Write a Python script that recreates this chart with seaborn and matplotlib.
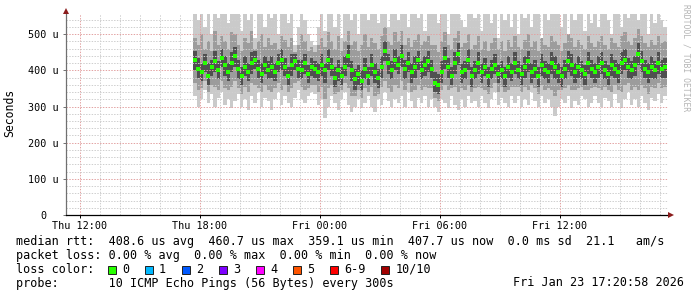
import numpy as np
import pandas as pd
import matplotlib
matplotlib.use("Agg")
import matplotlib.pyplot as plt
import matplotlib.dates as mdates
from matplotlib.ticker import MultipleLocator, FuncFormatter
from matplotlib.patches import Rectangle, Polygon
import seaborn as sns

# ---------------- data (microseconds, 10-minute steps from Thu 17:40) ----------------
median = [
    430, 405, 395, 420, 385, 410, 425, 400, 435, 415, 395, 420,
    440, 405, 385, 410, 395, 420, 430, 405, 390, 415, 400, 410,
    395, 420, 430, 410, 385, 415, 425, 405, 400, 420, 390, 410,
    405, 395, 415, 400, 430, 410, 380, 400, 385, 410, 440, 400,
    375, 390, 370, 405, 385, 415, 395, 380, 410, 455, 420, 400,
    430, 415, 440, 405, 420, 395, 410, 430, 400, 415, 425, 405,
    365, 360, 395, 435, 410, 385, 420, 445, 395, 400, 430, 385,
    400, 420, 395, 410, 385, 405, 415, 390, 400, 385, 410, 395,
    420, 400, 390, 410, 425, 395, 405, 385, 415, 400, 395, 420,
    410, 395, 385, 405, 425, 415, 395, 410, 400, 390, 420, 405,
    395, 410, 420, 400, 390, 415, 405, 395, 420, 430, 410, 400,
    415, 445, 425, 405, 395, 410, 400, 420, 405, 410,
]
outer_hi = [
    555, 540, 555, 520, 555, 500, 555, 545, 555, 555, 530, 555,
    555, 555, 510, 555, 540, 555, 490, 555, 555, 520, 555, 545,
    555, 500, 555, 555, 530, 555, 470, 520, 555, 540, 500, 480,
    470, 520, 555, 510, 555, 555, 520, 555, 490, 555, 555, 540,
    555, 500, 555, 555, 540, 555, 555, 530, 555, 555, 520, 555,
    555, 540, 555, 555, 520, 555, 555, 545, 555, 510, 555, 555,
    555, 530, 555, 555, 500, 555, 555, 555, 540, 520, 555, 555,
    545, 555, 510, 555, 555, 530, 555, 490, 555, 540, 555, 520,
    555, 500, 555, 545, 555, 520, 555, 555, 480, 555, 540, 555,
    555, 555, 520, 555, 500, 555, 540, 555, 555, 510, 555, 530,
    555, 520, 555, 555, 540, 500, 555, 555, 520, 555, 545, 555,
    555, 540, 555, 555, 500, 555, 530, 555, 540, 520,
]
outer_lo = [
    330, 300, 320, 345, 310, 335, 300, 325, 340, 305, 320, 295,
    315, 335, 300, 320, 290, 330, 310, 340, 300, 325, 315, 290,
    320, 340, 305, 330, 310, 300, 325, 345, 320, 310, 330, 340,
    335, 305, 320, 268, 300, 330, 310, 290, 320, 340, 305, 285,
    300, 320, 295, 310, 330, 300, 285, 320, 305, 340, 315, 300,
    320, 310, 330, 300, 340, 315, 295, 325, 310, 330, 300, 320,
    300, 285, 320, 310, 295, 330, 305, 290, 320, 300, 330, 310,
    315, 300, 330, 310, 295, 320, 340, 305, 325, 310, 300, 330,
    310, 330, 300, 320, 305, 340, 315, 300, 330, 310, 320, 300,
    275, 300, 320, 310, 330, 295, 315, 305, 330, 320, 300, 310,
    330, 310, 300, 325, 315, 300, 335, 310, 295, 320, 340, 305,
    320, 300, 330, 310, 290, 325, 315, 335, 310, 330,
]
mid_hi = [
    490, 470, 500, 460, 480, 455, 510, 470, 495, 480, 460, 505,
    500, 470, 455, 490, 475, 510, 460, 480, 500, 465, 490, 470,
    475, 460, 495, 485, 465, 490, 450, 470, 500, 480, 455, 465,
    450, 470, 490, 465, 505, 480, 460, 495, 455, 480, 510, 470,
    480, 455, 470, 500, 465, 490, 475, 460, 495, 520, 480, 470,
    505, 480, 510, 470, 490, 465, 485, 500, 470, 480, 495, 470,
    470, 450, 480, 505, 470, 460, 490, 510, 465, 475, 500, 460,
    470, 495, 460, 480, 455, 475, 490, 460, 480, 455, 485, 465,
    495, 465, 460, 485, 500, 465, 480, 455, 490, 470, 465, 495,
    480, 470, 455, 475, 500, 490, 465, 485, 470, 460, 495, 475,
    465, 480, 495, 470, 460, 490, 475, 465, 495, 505, 480, 470,
    490, 515, 495, 475, 465, 485, 470, 495, 475, 480,
]
mid_lo = [
    365, 345, 350, 370, 340, 360, 355, 345, 370, 350, 345, 355,
    370, 350, 335, 355, 340, 365, 360, 350, 340, 360, 345, 340,
    350, 365, 345, 360, 340, 350, 365, 370, 355, 345, 350, 360,
    360, 340, 355, 320, 350, 360, 335, 340, 345, 365, 350, 330,
    330, 345, 325, 350, 340, 355, 330, 335, 355, 370, 350, 340,
    360, 350, 370, 345, 365, 340, 345, 360, 345, 355, 350, 350,
    325, 315, 345, 360, 345, 350, 355, 340, 350, 345, 360, 340,
    350, 355, 350, 345, 335, 350, 365, 340, 355, 340, 345, 355,
    355, 355, 340, 355, 345, 360, 350, 335, 360, 345, 350, 345,
    330, 345, 345, 350, 360, 345, 345, 350, 355, 345, 345, 350,
    355, 350, 345, 355, 345, 340, 360, 345, 340, 360, 365, 345,
    355, 345, 360, 350, 335, 355, 350, 365, 350, 355,
]
inner_hi = [
    455, 435, 420, 445, 420, 430, 455, 425, 460, 440, 420, 450,
    465, 430, 410, 440, 420, 450, 455, 430, 420, 440, 425, 440,
    420, 445, 460, 435, 410, 445, 445, 430, 430, 445, 415, 435,
    425, 420, 445, 420, 460, 435, 410, 430, 410, 440, 470, 425,
    405, 415, 400, 435, 410, 445, 420, 405, 440, 480, 445, 425,
    460, 440, 470, 430, 450, 420, 440, 455, 425, 440, 455, 430,
    395, 390, 425, 465, 435, 410, 450, 475, 420, 425, 460, 410,
    425, 450, 420, 435, 410, 430, 445, 415, 425, 410, 440, 420,
    450, 425, 415, 440, 455, 420, 430, 410, 445, 425, 420, 450,
    440, 420, 410, 430, 455, 445, 420, 440, 425, 415, 450, 430,
    420, 440, 450, 425, 415, 445, 430, 420, 450, 460, 435, 425,
    440, 475, 455, 430, 420, 440, 425, 450, 430, 435,
]
inner_lo = [
    400, 380, 370, 395, 360, 385, 395, 375, 410, 385, 370, 395,
    410, 375, 360, 385, 370, 390, 405, 380, 365, 390, 375, 380,
    370, 395, 400, 385, 360, 385, 400, 380, 375, 390, 365, 385,
    380, 370, 385, 365, 400, 385, 355, 370, 360, 385, 410, 370,
    345, 360, 345, 375, 360, 385, 365, 350, 380, 425, 390, 375,
    400, 390, 410, 375, 395, 365, 380, 400, 375, 385, 395, 380,
    340, 335, 365, 405, 380, 360, 390, 415, 365, 375, 400, 355,
    375, 390, 365, 385, 355, 375, 390, 365, 375, 355, 380, 370,
    390, 375, 360, 380, 395, 365, 380, 355, 385, 375, 365, 390,
    375, 365, 355, 375, 395, 385, 365, 380, 375, 360, 390, 380,
    365, 380, 390, 375, 360, 385, 380, 365, 390, 400, 380, 375,
    385, 415, 395, 380, 365, 380, 375, 390, 380, 380,
]

loss_labels = ["0", "1", "2", "3", "4", "5", "6-9", "10/10"]
loss_colors = ["#26ff00", "#00b8ff", "#0059ff", "#7e00ff", "#ff00ff",
               "#ff5500", "#ff0000", "#a10000"]

legend_rtt = "median rtt:  408.6 us avg  460.7 us max  359.1 us min  407.7 us now  0.0 ms sd  21.1   am/s"
legend_loss = "packet loss: 0.00 % avg  0.00 % max  0.00 % min  0.00 % now"
legend_probe = "probe:       10 ICMP Echo Pings (56 Bytes) every 300s"
stamp = "Fri Jan 23 17:20:58 2026"

# ---------------- figure ----------------
W, H = 697, 297
sns.set_theme(style="white")
plt.rcParams["font.family"] = ["DejaVu Sans Mono", "DejaVu Sans"]
plt.rcParams["axes.unicode_minus"] = False

fig = plt.figure(figsize=(W / 100, H / 100), dpi=100)
fig.patch.set_facecolor("white")
ax = fig.add_axes([66 / W, 1 - 215 / H, 602 / W, 201 / H])
ax.set_facecolor("white")

n = len(median)
edges = pd.date_range("2026-01-22 17:40", periods=n + 1, freq="10min")
centers = edges[:-1] + pd.Timedelta(minutes=5)

def ext(a):
    a = np.asarray(a, dtype=float)
    return np.append(a, a[-1])

ax.fill_between(edges, ext(outer_lo), ext(outer_hi), step="post",
                color="#cacaca", linewidth=0, zorder=1)
ax.fill_between(edges, ext(mid_lo), ext(mid_hi), step="post",
                color="#9c9c9c", linewidth=0, zorder=1.1)
ax.fill_between(edges, ext(inner_lo), ext(inner_hi), step="post",
                color="#505050", linewidth=0, zorder=1.2)

df = pd.DataFrame({"t": centers, "median": median})
sns.scatterplot(data=df, x="t", y="median", marker="s", s=7,
                color=loss_colors[0], linewidth=0, ax=ax, zorder=4)

ax.set_xlim(pd.Timestamp("2026-01-22 11:18"), pd.Timestamp("2026-01-23 17:24"))
ax.set_ylim(0, 556)

ax.xaxis.set_major_locator(mdates.HourLocator(byhour=[0, 6, 12, 18]))
ax.xaxis.set_minor_locator(mdates.HourLocator(interval=1))
ax.xaxis.set_major_formatter(mdates.DateFormatter("%a %H:%M"))
ax.yaxis.set_major_locator(MultipleLocator(100))
ax.yaxis.set_minor_locator(MultipleLocator(20))
ax.yaxis.set_major_formatter(FuncFormatter(lambda v, p: "0  " if v == 0 else f"{int(v)} u"))

ax.set_axisbelow(False)
ax.grid(which="minor", color="#cfcfcf", linestyle=(0, (1.4, 1.4)), linewidth=0.72, zorder=2)
ax.grid(which="major", color="#e3a3a3", linestyle=(0, (1.4, 1.4)), linewidth=0.72, zorder=2.1)

for s in ["top", "right"]:
    ax.spines[s].set_visible(False)
ax.spines["left"].set_color("#707070")
ax.spines["left"].set_linewidth(0.9)
ax.spines["bottom"].set_color("#000000")
ax.spines["bottom"].set_linewidth(0.9)
ax.spines["left"].set_zorder(5)
ax.spines["bottom"].set_zorder(5)

ax.tick_params(axis="y", which="major", length=2.5, width=0.7, color="#707070",
               pad=2.5, labelsize=7.3, labelcolor="#000000", left=True)
ax.tick_params(axis="y", which="minor", length=0)
ax.tick_params(axis="x", which="major", length=2, width=0.7, color="#000000",
               pad=2.5, labelsize=7.3, labelcolor="#000000", bottom=True)
ax.tick_params(axis="x", which="minor", length=0)
for lab in ax.get_xticklabels():
    lab.set_ha("center")
ax.set_xlabel("")
ax.set_ylabel("")

def fx(px):
    return px / W

def fy(py):
    return 1 - py / H

# axis arrows
fig.patches.append(Polygon([(fx(63), fy(14)), (fx(69), fy(14)), (fx(66), fy(8))],
                           closed=True, transform=fig.transFigure,
                           facecolor="#8b1c1c", edgecolor="none", zorder=10))
fig.patches.append(Polygon([(fx(668), fy(212)), (fx(668), fy(218)), (fx(674), fy(215))],
                           closed=True, transform=fig.transFigure,
                           facecolor="#8b1c1c", edgecolor="none", zorder=10))

fig.text(fx(10), fy(113), "Seconds", rotation=90, ha="center", va="center",
         fontsize=8.3, color="#000000")
fig.text(fx(686), fy(4), "RRDTOOL / TOBI OETIKER", rotation=270, ha="center",
         va="top", fontsize=5.8, color="#b4b4b4")

fs = 8.5
fig.text(fx(16), fy(241.5), legend_rtt, ha="left", va="center", fontsize=fs, color="#000000")
fig.text(fx(16), fy(255.5), legend_loss, ha="left", va="center", fontsize=fs, color="#000000")
fig.text(fx(16), fy(269.5), "loss color:", ha="left", va="center", fontsize=fs, color="#000000")
fig.text(fx(16), fy(283), legend_probe, ha="left", va="center", fontsize=fs, color="#000000")
fig.text(fx(513), fy(283), stamp, ha="left", va="center", fontsize=fs, color="#000000")

cw = 7.1
x = 108.0
for lab, col in zip(loss_labels, loss_colors):
    fig.patches.append(Rectangle((fx(x), fy(273.5)), 8 / W, 8 / H,
                                 transform=fig.transFigure, facecolor=col,
                                 edgecolor="#202020", linewidth=0.7, zorder=10))
    fig.text(fx(x + 14), fy(269.5), lab, ha="left", va="center", fontsize=fs, color="#000000")
    x += 37 + cw * (len(lab) - 1)

fig.savefig("out.png", dpi=100, facecolor="white")
